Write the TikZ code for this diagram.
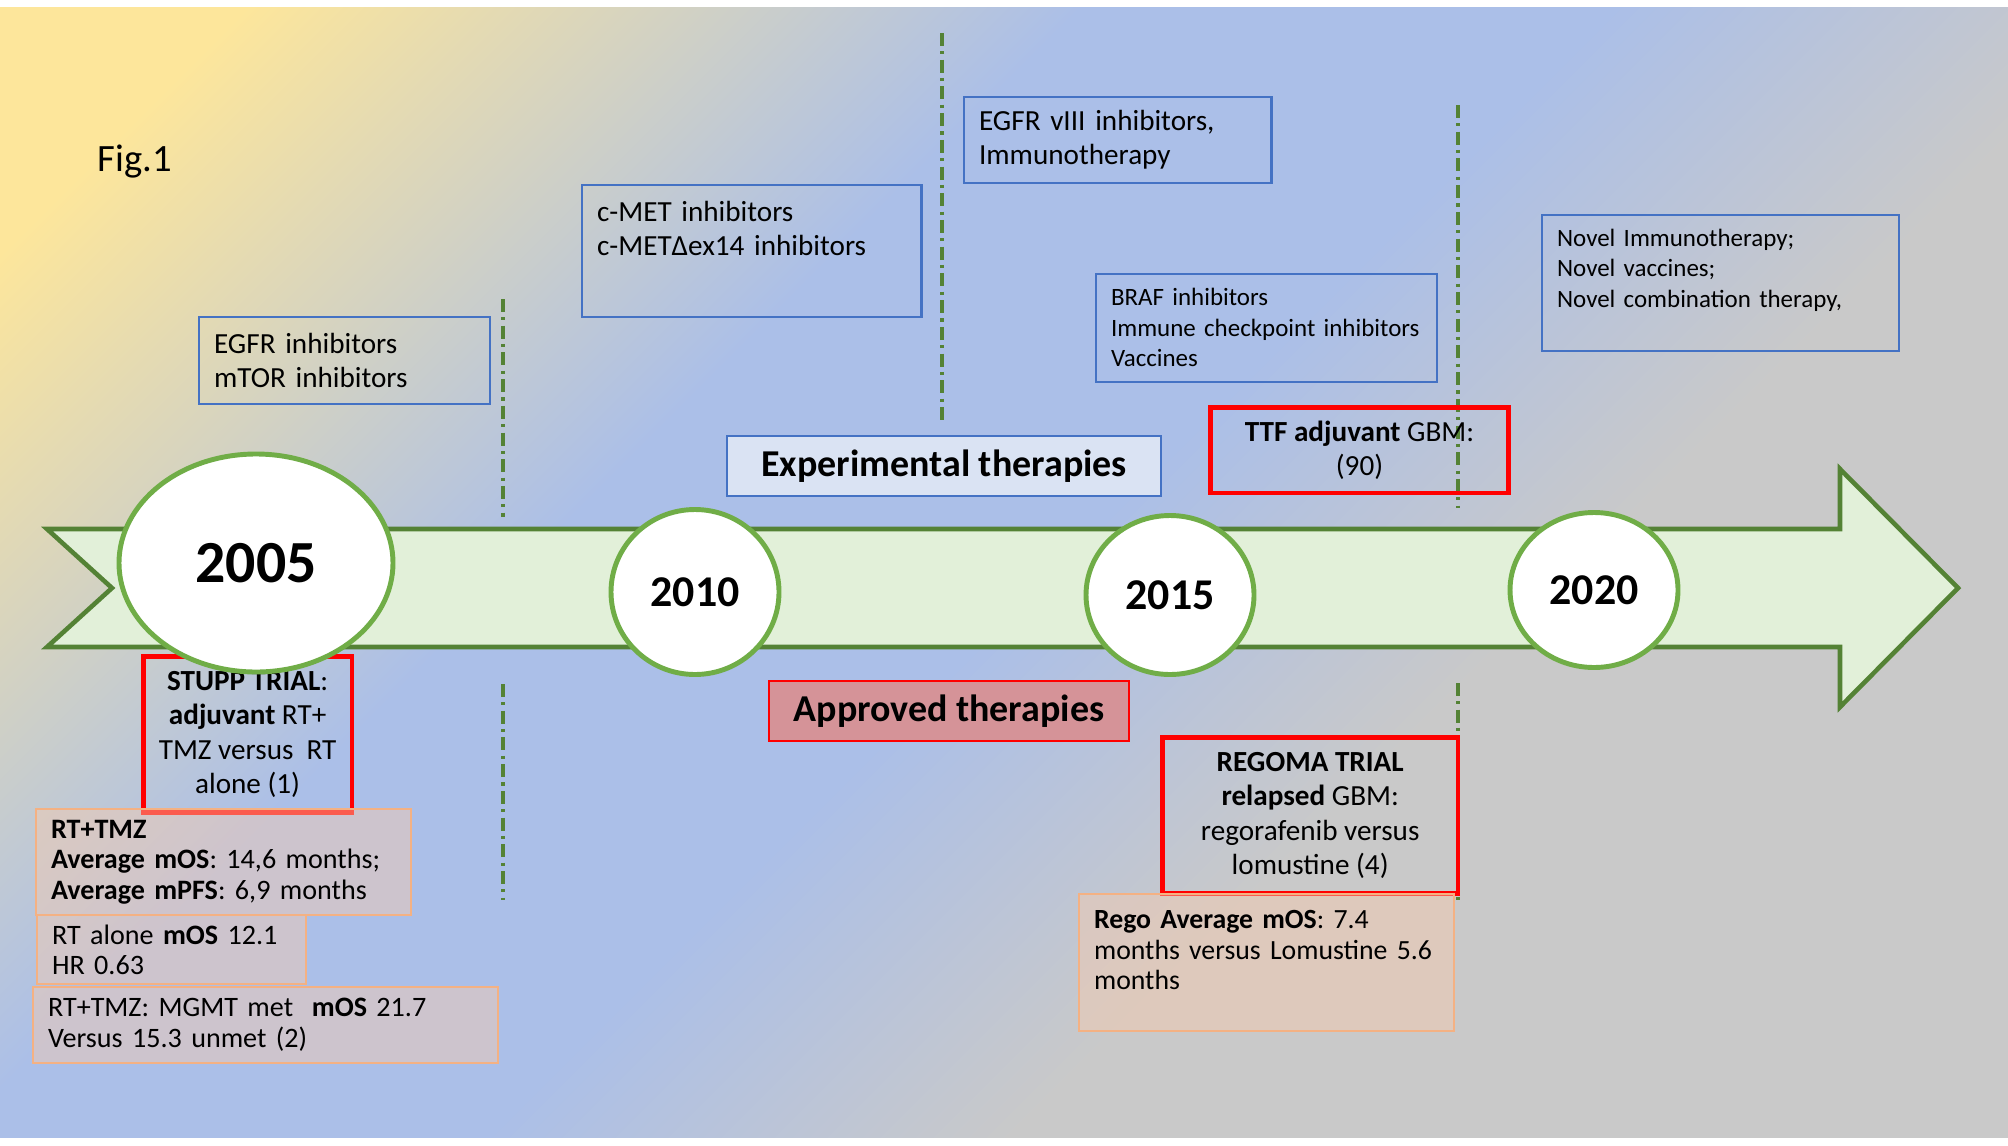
\documentclass[tikz,border=0pt]{standalone}
\usepackage{fontspec}
\setmainfont{Carlito}
\usetikzlibrary{shapes.geometric}

\definecolor{bgyellow}{RGB}{253,230,155}
\definecolor{bgblue}{RGB}{171,191,232}
\definecolor{bggray}{RGB}{201,201,201}
\definecolor{agreen}{RGB}{84,130,53}
\definecolor{afill}{RGB}{226,240,217}
\definecolor{ygreen}{RGB}{112,173,71}
\definecolor{iblue}{RGB}{68,114,196}
\definecolor{expfill}{RGB}{218,227,243}
\definecolor{apfill}{RGB}{213,147,152}
\definecolor{tred}{RGB}{255,0,0}
\definecolor{rorange}{RGB}{244,177,131}
\definecolor{rpeach}{RGB}{248,203,173}

\pgfdeclarehorizontalshading{bgshade}{100bp}{color(0bp)=(bgyellow); color(20bp)=(bgyellow); color(39bp)=(bgblue); color(51bp)=(bgblue); color(63bp)=(bggray); color(100bp)=(bggray)}

\newcommand{\boxfont}{\fontsize{8.3}{9.8}\selectfont}
\newcommand{\notefont}{\fontsize{7.1}{8.7}\selectfont}
\newcommand{\datafont}{\fontsize{8}{8.7}\selectfont}
\newcommand{\regofont}{\fontsize{7.9}{8.6}\selectfont}

\begin{document}
\begin{tikzpicture}[x=0.1mm, y=-0.1mm,
    ibox/.style={draw=iblue, line width=0.6pt, anchor=north west, align=left, inner xsep=1.5mm, inner ysep=0pt, font=\boxfont},
    trial/.style={draw=tred, line width=1.3pt, anchor=north west, align=center, inner sep=0pt, font=\boxfont},
    result/.style={draw=rorange, line width=0.6pt, fill=rpeach, fill opacity=0.45, text opacity=1, anchor=north west, align=left, inner xsep=1.5mm, inner ysep=0pt, font=\datafont},
    banner/.style={line width=0.6pt, anchor=north west, inner sep=0pt, font=\bfseries\fontsize{10.8}{12}\selectfont},
    year/.style={ellipse, draw=ygreen, line width=1.4pt, fill=white, inner sep=0pt, font=\bfseries\fontsize{12.5}{14}\selectfont},
    divider/.style={draw=agreen, line width=0.95pt, dash pattern=on 3.7pt off 1.5pt on 0.9pt off 1.5pt}]
    \useasboundingbox (0,0) rectangle (2008,1145);
    \fill[white] (0,0) rectangle (2008,1145);
    \shade[shading=bgshade, shading angle=-45] (0,7) rectangle (2008,1137);

    % timeline
    \draw[line width=1.3pt, draw=agreen, fill=afill] (47,529) -- (1840,529) -- (1840,469) -- (1958,588)
        -- (1840,707) -- (1840,647) -- (47,647) -- (112,588) -- cycle;

    % period dividers
    \draw[divider] (503,299) -- (503,517);
    \draw[divider] (503,684) -- (503,900);
    \draw[divider] (942,33) -- (942,425);
    \draw[divider] (1458,105) -- (1458,508);
    \draw[divider] (1458,683) -- (1458,900);

    \node[font=\fontsize{11}{13}\selectfont] (fig) at (135,162) {Fig.1};

    % experimental therapies
    \node[ibox, text width=26.07mm, minimum width=29.07mm, minimum height=8.71mm] (egfr) at (198,316) {EGFR inhibitors\\mTOR inhibitors};
    \node[ibox, text width=30.94mm, minimum width=33.94mm, text height=3.65mm, text depth=9.54mm] (cmet) at (581,184) {c-MET inhibitors\\c-METΔex14 inhibitors};
    \node[ibox, text width=27.74mm, minimum width=30.74mm, minimum height=8.58mm] (egfrv) at (963,96) {EGFR vIII inhibitors,\\Immunotherapy};
    \node[ibox, font=\notefont, text width=31.06mm, minimum width=34.06mm, minimum height=10.75mm] (braf) at (1095,273) {BRAF inhibitors\\Immune checkpoint inhibitors\\Vaccines};
    \node[ibox, font=\notefont, text width=32.73mm, minimum width=35.73mm, text height=3.12mm, text depth=10.45mm] (novel) at (1541,214) {Novel Immunotherapy;\\Novel vaccines;\\Novel combination therapy,};
    \node[trial, minimum width=29.84mm, minimum height=8.58mm] (ttf) at (1208,405) {\textbf{TTF adjuvant} GBM:\\(90)};

    \node[banner, draw=iblue, fill=expfill, minimum width=43.41mm, minimum height=6.02mm] (exp) at (726,435) {Experimental therapies};
    \node[banner, draw=tred, fill=apfill, minimum width=35.98mm, minimum height=6.02mm] (appr) at (768,680) {Approved therapies};

    % approved therapies
    \node[trial, minimum width=20.87mm, minimum height=15.62mm] (stupp) at (141,654) {\textbf{STUPP TRIAL}:\\\textbf{adjuvant} RT+\\TMZ versus\ \ RT\\alone (1)};
    \node[result, text width=34.52mm, minimum width=37.52mm, minimum height=10.63mm] (rttmz) at (35,808) {\textbf{RT+TMZ}\\\textbf{Average mOS}: 14,6 months;\\\textbf{Average mPFS}: 6,9 months};
    \node[result, text width=23.89mm, minimum width=26.89mm, minimum height=6.92mm] (rtalone) at (36,914) {RT alone \textbf{mOS} 12.1\\HR 0.63};
    \node[result, text width=43.49mm, minimum width=46.49mm, minimum height=7.56mm] (mgmt) at (32,986) {RT+TMZ: MGMT met\ \ \textbf{mOS} 21.7\\Versus 15.3 unmet (2)};
    \node[trial, minimum width=29.58mm, minimum height=15.63mm] (regoma) at (1160,735) {\textbf{REGOMA TRIAL}\\\textbf{relapsed} GBM:\\regorafenib versus\\lomustine (4)};
    \node[result, font=\regofont, text width=34.52mm, minimum width=37.52mm, text height=3.48mm, text depth=10.22mm] (rego) at (1078,893) {\textbf{Rego Average mOS}: 7.4\\months versus Lomustine 5.6\\months};

    % years
    \node[year, font=\bfseries\fontsize{17}{20}\selectfont, minimum width=27.4mm, minimum height=21.8mm] (y2005) at (256,563) {2005};
    \node[year, minimum width=16.8mm, minimum height=16.5mm] (y2010) at (695,592) {2010};
    \node[year, minimum width=16.8mm, minimum height=15.9mm] (y2015) at (1170,595) {2015};
    \node[year, minimum width=16.8mm, minimum height=15.5mm] (y2020) at (1594,590) {2020};
\end{tikzpicture}
\end{document}
